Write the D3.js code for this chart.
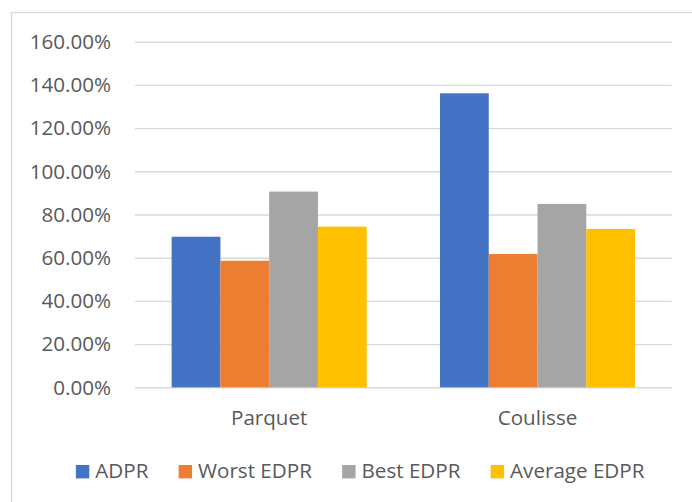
<!DOCTYPE html>
<html>
<head>
<meta charset="utf-8">
<script src="https://cdn.jsdelivr.net/npm/d3@7"></script>
<style>
  html, body { margin: 0; padding: 0; background: #fff; }
  svg { display: block; }
  text { font-family: "Open Sans", "Noto Sans", sans-serif; fill: #595959; }
</style>
</head>
<body>
<svg id="chart" width="692" height="502"></svg>
<script>
const categories = ["Parquet", "Coulisse"];
const seriesNames = ["ADPR", "Worst EDPR", "Best EDPR", "Average EDPR"];
const ADPR = [0.697, 1.361];
const worstEDPR = [0.586, 0.617];
const bestEDPR = [0.906, 0.849];
const averageEDPR = [0.744, 0.733];
const seriesValues = [ADPR, worstEDPR, bestEDPR, averageEDPR];
const colors = ["#4472C4", "#ED7D31", "#A5A5A5", "#FFC000"];
const yTicks = [0, 0.2, 0.4, 0.6, 0.8, 1.0, 1.2, 1.4, 1.6];

const FS = 20.6;
const svg = d3.select("#chart");
const plot = { left: 135, right: 671.7, top: 41.7, bottom: 387.3 };

// outer chart border
svg.append("rect")
  .attr("x", 11.5).attr("y", 12.5)
  .attr("width", 720).attr("height", 520)
  .attr("fill", "#fff").attr("stroke", "#d9d9d9").attr("stroke-width", 1.3);

const y = d3.scaleLinear().domain([0, 1.6]).range([plot.bottom, plot.top]);
const x0 = d3.scaleBand().domain(categories).range([plot.left, plot.right])
  .paddingInner(0.273).paddingOuter(0.1365);
const x1 = d3.scaleBand().domain(seriesNames).range([0, x0.bandwidth()]).padding(0);

// gridlines + y labels
const yAxis = d3.axisLeft(y).tickValues(yTicks)
  .tickSize(-(plot.right - plot.left)).tickPadding(24)
  .tickFormat(d => (d * 100).toFixed(2) + "%");
const gy = svg.append("g").attr("transform", `translate(${plot.left},0)`).call(yAxis);
gy.select(".domain").remove();
gy.selectAll(".tick line").attr("stroke", "#d9d9d9").attr("stroke-width", 1.4);
gy.selectAll(".tick text")
  .attr("font-size", FS).attr("fill", "#595959")
  .attr("dy", "0.33em").attr("font-family", "'Open Sans', sans-serif");

// bars
const groups = svg.append("g").selectAll("g").data(categories).join("g")
  .attr("transform", d => `translate(${x0(d)},0)`);
groups.selectAll("rect")
  .data((c, ci) => seriesNames.map((s, si) => ({ s, si, v: seriesValues[si][ci] })))
  .join("rect")
  .attr("x", d => x1(d.s))
  .attr("y", d => y(d.v))
  .attr("width", x1.bandwidth())
  .attr("height", d => y(0) - y(d.v))
  .attr("fill", d => colors[d.si]);

// x axis
const xAxis = d3.axisBottom(x0).tickSize(0).tickPadding(0);
const gx = svg.append("g").attr("transform", `translate(0,${plot.bottom})`).call(xAxis);
gx.select(".domain").remove();
gx.selectAll(".tick text")
  .attr("font-size", FS).attr("fill", "#595959")
  .attr("y", 425 - plot.bottom).attr("dy", 0)
  .attr("font-family", "'Open Sans', sans-serif");

// legend
const legend = svg.append("g");
const items = legend.selectAll("g").data(seriesNames).join("g");
items.append("rect").attr("width", 13.4).attr("height", 13.4)
  .attr("y", 465).attr("fill", (d, i) => colors[i]);
items.append("text").text(d => d).attr("x", 19.4).attr("y", 478.3)
  .attr("font-size", FS).attr("font-family", "'Open Sans', sans-serif");
let widths = [];
items.each(function() { widths.push(this.getBBox().width); });
const gap = 30;
const total = d3.sum(widths) + gap * (widths.length - 1);
let cx = 360.3 - total / 2;
items.attr("transform", (d, i) => {
  const t = `translate(${cx},0)`;
  cx += widths[i] + gap;
  return t;
});
</script>
</body>
</html>
